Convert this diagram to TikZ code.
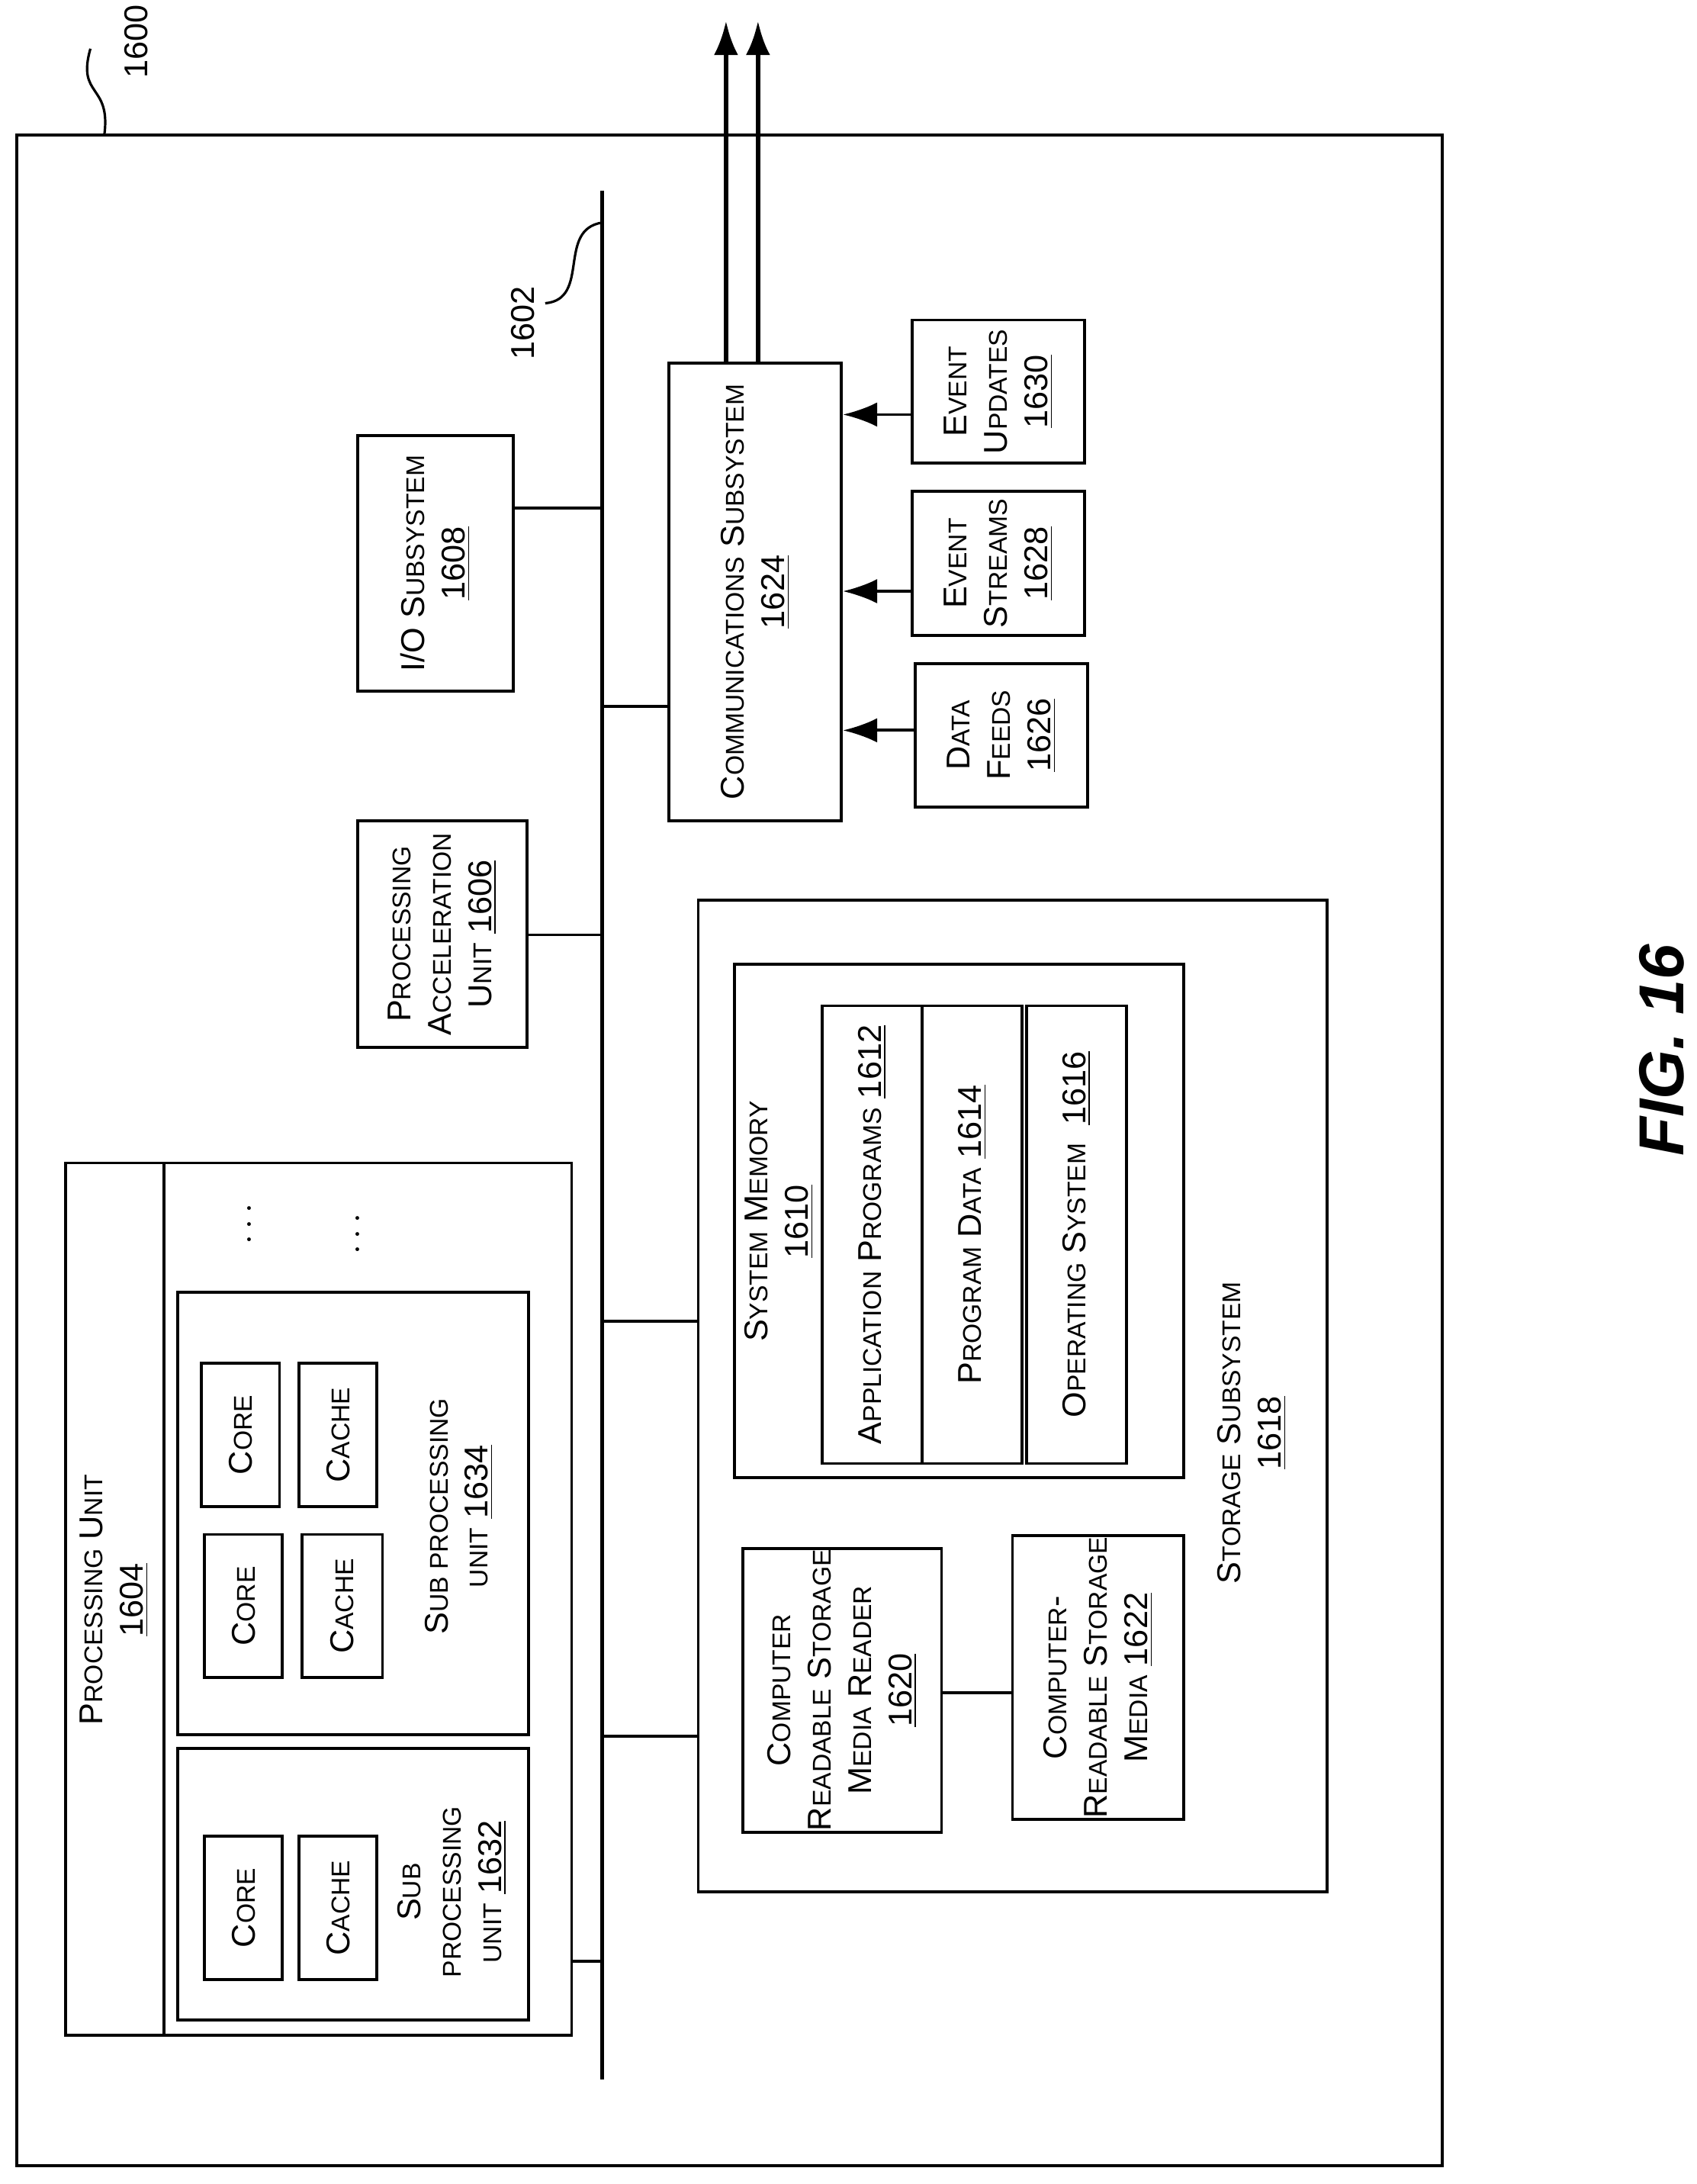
\documentclass[tikz,border=0pt]{standalone}
\usepackage{fontspec}
\setmainfont{Liberation Sans}
\usetikzlibrary{arrows.meta, fit}
\newcommand{\sm}[1]{{\fontsize{10.5}{13}\selectfont #1}}
\tikzset{
	box/.style={draw, line width=1.2pt, inner sep=0pt},
	lbl/.style={rotate=90, align=center, font=\fontsize{13.5}{16.5}\selectfont},
	wire/.style={line width=1.2pt},
	feed/.style={line width=1.2pt, -{Latex[length=14pt, width=10pt]}}
}
\newcommand{\bx}[6]{\node[box, fit={(#2,#3) (#4,#5)}] (#1) {}; \node[lbl] at (#1.center) {#6};}

\begin{document}
\begin{tikzpicture}[x=0.02cm, y=-0.02cm]
	\useasboundingbox (0,0) rectangle (1220,1570);

	\bx{outer}{12}{97}{1037}{1557}{}
	\draw[line width=1pt] (75,97) .. controls (80,60) and (55,70) .. (65,35);
	\node[lbl] at (98,30) {1600};

	% bus
	\coordinate (bt) at (433,137);
	\coordinate (bb) at (433,1495);
	\draw[line width=1.6pt] (bt) -- (bb);
	\draw[line width=1pt] (433,160) .. controls (400,165) and (425,215) .. (392,218);
	\node[lbl] at (376,232) {1602};

	\bx{io}{257}{313}{369}{497}{I/O S\sm{UBSYSTEM}\\\underline{1608}}
	\bx{pau}{257}{590}{379}{753}{P\sm{ROCESSING}\\A\sm{CCELERATION}\\U\sm{NIT} \underline{1606}}
	\bx{comm}{481}{261}{605}{590}{C\sm{OMMUNICATIONS} S\sm{UBSYSTEM}\\\underline{1624}}
	\bx{upd}{656}{230}{780}{333}{E\sm{VENT}\\U\sm{PDATES}\\\underline{1630}}
	\bx{str}{656}{353}{780}{457}{E\sm{VENT}\\S\sm{TREAMS}\\\underline{1628}}
	\bx{feeds}{658}{477}{782}{580}{D\sm{ATA}\\F\sm{EEDS}\\\underline{1626}}

	\draw[wire] (io.east |- 0,365) -- (bt |- 0,365);
	\draw[wire] (pau.east |- 0,672) -- (bt |- 0,672);
	\draw[wire] (comm.west |- 0,508) -- (bt |- 0,508);
	\draw[feed] (upd.west |- 0,298) -- (comm.east |- 0,298);
	\draw[feed] (str.west |- 0,425) -- (comm.east |- 0,425);
	\draw[feed] (feeds.west |- 0,525) -- (comm.east |- 0,525);
	\coordinate (out1) at (522,15);
	\coordinate (out2) at (545,15);
	\draw[feed, line width=2pt] (comm.north -| out1) -- (out1);
	\draw[feed, line width=2pt] (comm.north -| out2) -- (out2);

	% storage
	\bx{stor}{502}{647}{954}{1360}{}
	\node[lbl] at (900,1030) {S\sm{TORAGE} S\sm{UBSYSTEM}\\\underline{1618}};
	\bx{mem}{528}{693}{851}{1062}{}
	\node[lbl] at (560,878) {S\sm{YSTEM} M\sm{EMORY}\\\underline{1610}};
	\bx{app}{591}{723}{663}{1052}{A\sm{PPLICATION} P\sm{ROGRAMS} \underline{1612}}
	\bx{pdata}{663}{723}{735}{1052}{P\sm{ROGRAM} D\sm{ATA} \underline{1614}}
	\bx{os}{738}{723}{810}{1052}{O\sm{PERATING} S\sm{YSTEM}\ \ \underline{1616}}
	\bx{reader}{534}{1113}{677}{1317}{C\sm{OMPUTER}\\R\sm{EADABLE} S\sm{TORAGE}\\M\sm{EDIA} R\sm{EADER}\\\underline{1620}}
	\bx{media}{728}{1104}{851}{1308}{C\sm{OMPUTER}-\\R\sm{EADABLE} S\sm{TORAGE}\\M\sm{EDIA} \underline{1622}}
	\draw[wire] (reader.east |- 0,1217) -- (media.west |- 0,1217);
	\draw[wire] (stor.west |- 0,950) -- (bt |- 0,950);
	\draw[wire] (stor.west |- 0,1248) -- (bt |- 0,1248);

	% processing unit
	\bx{pu}{47}{836}{411}{1463}{}
	\draw[wire] (118,836) -- (118,1463);
	\node[lbl] at (82,1150) {P\sm{ROCESSING} U\sm{NIT}\\\underline{1604}};
	\bx{spa}{128}{929}{380}{1247}{}
	\node[lbl] at (330,1090) {S\sm{UB PROCESSING}\\\sm{UNIT} \underline{1634}};
	\bx{coreA}{145}{980}{201}{1083}{C\sm{ORE}}
	\bx{cacheA}{215}{980}{271}{1083}{C\sm{ACHE}}
	\bx{coreB}{147}{1103}{203}{1206}{C\sm{ORE}}
	\bx{cacheB}{217}{1103}{275}{1206}{C\sm{ACHE}}
	\bx{spb}{128}{1257}{380}{1452}{}
	\node[lbl] at (325,1360) {S\sm{UB}\\\sm{PROCESSING}\\\sm{UNIT} \underline{1632}};
	\bx{coreC}{147}{1320}{203}{1423}{C\sm{ORE}}
	\bx{cacheC}{215}{1320}{271}{1423}{C\sm{ACHE}}
	\node[lbl] at (180,880) {$\cdots$};
	\node[lbl] at (258,887) {$\cdots$};
	\draw[wire] (pu.east |- 0,1410) -- (bt |- 0,1410);

	\node[rotate=90, font=\fontsize{26}{30}\selectfont\bfseries\itshape] (fig) at (1195,755) {FIG. 16};
\end{tikzpicture}
\end{document}
